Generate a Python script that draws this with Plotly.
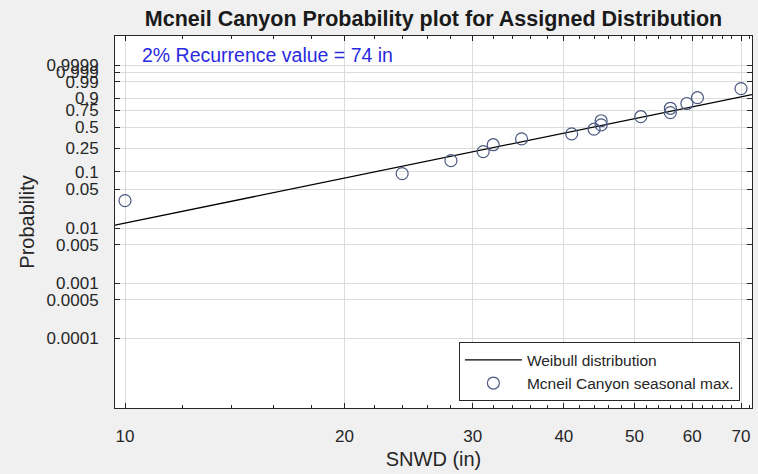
import numpy as np
import plotly.graph_objects as go

# Data: seasonal maximum snow depth (in), sorted
snwd = [10, 24, 28, 31, 32, 35, 41, 44, 45, 45, 51, 56, 56, 59, 61, 70]
# Fitted Weibull distribution parameters (shape, scale)
weib_shape = 2.72
weib_scale = 50.3
# Probability tick labels
prob_ticks = [0.0001, 0.0005, 0.001, 0.005, 0.01, 0.05, 0.1, 0.25, 0.5, 0.75, 0.9, 0.99, 0.999, 0.9999]
prob_labels = ["0.0001", "0.0005", "0.001", "0.005", "0.01", "0.05", "0.1", "0.25", "0.5", "0.75", "0.9", "0.99", "0.999", "0.9999"]
x_ticks = [10, 20, 30, 40, 50, 60, 70]
x_minor = [12, 14, 16, 18, 22, 24, 26, 28, 32, 34, 36, 38, 42, 44, 46, 48, 52, 54, 56, 58, 62, 64, 66, 68, 72]


def wz(p):
    p = np.asarray(p, dtype=float)
    return np.log(-np.log(1.0 - p))


n = len(snwd)
pp = [(i + 0.5) / n for i in range(n)]
x_rng = [9.689, 72.47]
xl = np.exp(np.linspace(np.log(x_rng[0]), np.log(x_rng[1]), 50))
zl = weib_shape * (np.log(xl) - np.log(weib_scale))

fig = go.Figure()
fig.add_trace(go.Scatter(x=xl, y=zl, mode="lines", name="Weibull distribution",
                         line=dict(color="black", width=1.3)))
fig.add_trace(go.Scatter(x=snwd, y=wz(pp), mode="markers", name="Mcneil Canyon seasonal max.",
                         marker=dict(symbol="circle-open", size=12, color="#4d5a80",
                                     line=dict(width=1.2, color="#4d5a80"))))

font = "Liberation Sans, Arial, sans-serif"
fig.update_layout(
    width=758, height=474,
    paper_bgcolor="#f0f0f0", plot_bgcolor="white",
    margin=dict(l=115, r=6, t=36, b=66, autoexpand=False),
    title=dict(text="<b>Mcneil Canyon Probability plot for Assigned Distribution</b>",
               x=(115 + 752) / 2 / 758, xanchor="center", y=1 - 18 / 474, yanchor="middle",
               font=dict(family=font, size=21.5, color="#1a1a1a"), automargin=False),
    font=dict(family=font, color="#262626"),
    showlegend=True,
    legend=dict(x=0.981, y=0.018, xanchor="right", yanchor="bottom",
                bgcolor="white", bordercolor="#262626", borderwidth=1,
                font=dict(size=15.5, family=font, color="#262626"),
                tracegroupgap=0, itemwidth=57),
    xaxis=dict(type="log", range=[np.log10(x_rng[0]), np.log10(x_rng[1])],
               tickvals=x_ticks, ticktext=[str(v) for v in x_ticks],
               ticks="inside", ticklen=5, tickcolor="#262626",
               showline=True, linecolor="#262626", linewidth=1, mirror="ticks",
               showgrid=True, gridcolor="#dcdcdc", gridwidth=1, zeroline=False, automargin=False,
               tickfont=dict(size=17), ticklabelstandoff=13,
               title=dict(text="SNWD (in)", font=dict(size=20), standoff=6),
               minor=dict(tickvals=x_minor, ticks="inside", ticklen=3, tickcolor="#262626", showgrid=False)),
    yaxis=dict(range=[-12.14, 3.447],
               tickvals=list(wz(prob_ticks)), ticktext=prob_labels,
               ticks="inside", ticklen=5, tickcolor="#262626",
               showline=True, linecolor="#262626", linewidth=1, mirror="ticks",
               showgrid=True, gridcolor="#dcdcdc", gridwidth=1, zeroline=False, automargin=False,
               tickfont=dict(size=17), ticklabelstandoff=12,
               title=dict(text="Probability", font=dict(size=20), standoff=6)),
)
fig.add_annotation(text="2% Recurrence value = 74 in", xref="paper", yref="paper",
                   x=0.040, y=0.949, xanchor="left", yanchor="middle", showarrow=False,
                   font=dict(family=font, size=19.5, color="#2a2ae0"))

fig.write_html("out.html", config={"displayModeBar": False},
               post_script="document.body.style.margin='0px';document.body.style.background='#f0f0f0';")
